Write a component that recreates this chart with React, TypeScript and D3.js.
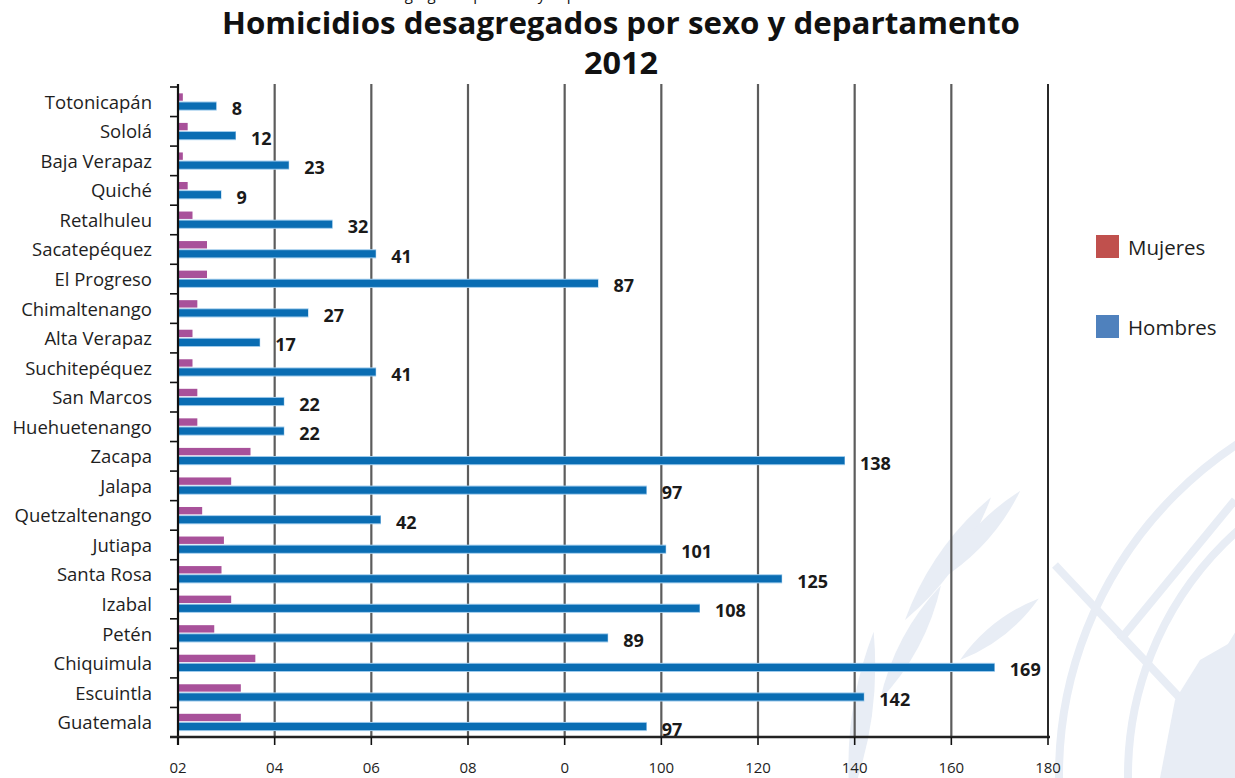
import React from 'react';
import * as d3 from 'd3';

const categories = [
  'Totonicapán', 'Sololá', 'Baja Verapaz', 'Quiché', 'Retalhuleu', 'Sacatepéquez',
  'El Progreso', 'Chimaltenango', 'Alta Verapaz', 'Suchitepéquez', 'San Marcos',
  'Huehuetenango', 'Zacapa', 'Jalapa', 'Quetzaltenango', 'Jutiapa', 'Santa Rosa',
  'Izabal', 'Petén', 'Chiquimula', 'Escuintla', 'Guatemala',
];
const hombres = [8, 12, 23, 9, 32, 41, 87, 27, 17, 41, 22, 22, 138, 97, 42, 101, 125, 108, 89, 169, 142, 97];
const mujeres = [1, 2, 1, 2, 3, 6, 6, 4, 3, 3, 4, 4, 15, 11, 5, 9.5, 9, 11, 7.5, 16, 13, 13];
const tickValues = [0, 20, 40, 60, 80, 100, 120, 140, 160, 180];
const tickLabels = ['02', '04', '06', '08', '0', '100', '120', '140', '160', '180'];
const legendLabels = ['Mujeres', 'Hombres'];
const legendColors = ['#c0504d', '#4f81bd'];
const titleLines = ['Homicidios desagregados por sexo y departamento', '2012'];

const FONT = "'Open Sans', 'DejaVu Sans', sans-serif";
const WM = '#e8edf5';

function leafPath(len: number, w: number) {
  return `M0,0 Q${len * 0.5},${-w} ${len},0 Q${len * 0.5},${w} 0,0 Z`;
}

export default function App() {
  const W = 1235;
  const H = 778;
  const x = d3.scaleLinear().domain([0, 180]).range([178, 1048]);
  const y = d3.scaleBand<string>().domain(categories).range([87, 737]);
  const bw = y.bandwidth();
  const top = 84;
  const bottom = 737;

  const leaves = [
    { x: 850, y: 800, a: -82, l: 170, w: 20 },
    { x: 880, y: 700, a: -62, l: 130, w: 18 },
    { x: 905, y: 620, a: -55, l: 150, w: 20 },
    { x: 940, y: 580, a: -48, l: 120, w: 17 },
    { x: 960, y: 660, a: -38, l: 100, w: 15 },
  ];

  return (
    <svg
      width={W}
      height={H}
      style={{ position: 'absolute', left: 0, top: 0, background: '#fff' }}
      fontFamily={FONT}
    >
      <rect x={0} y={0} width={W} height={H} fill="#fff" />
      {/* watermark */}
      <g fill="none" stroke={WM}>
        <circle cx={1455} cy={775} r={396} strokeWidth={8} />
        <circle cx={1455} cy={775} r={327} strokeWidth={8} />
        <circle cx={1455} cy={775} r={258} strokeWidth={8} />
        <line x1={1055} y1={565} x2={1240} y2={762} strokeWidth={8} />
        <line x1={1235} y1={500} x2={1120} y2={640} strokeWidth={8} />
      </g>
      <g fill={WM}>
        {leaves.map((lf, i) => (
          <path key={i} d={leafPath(lf.l, lf.w)} transform={`translate(${lf.x},${lf.y}) rotate(${lf.a})`} />
        ))}
        <path d="M1160,778 L1175,700 L1200,660 L1235,640 L1235,778 Z" />
      </g>

      {/* cut-off line at top */}
      <text x={470} y={0} textAnchor="middle" fontSize={15} fill="#111">
        Homicidios desagregados por sexo y departamento
      </text>

      {/* title */}
      <text x={621} y={34} textAnchor="middle" fontSize={31} fontWeight={700} fill="#111"
        textLength={798} lengthAdjust="spacingAndGlyphs">
        {titleLines[0]}
      </text>
      <text x={621} y={74} textAnchor="middle" fontSize={31} fontWeight={700} fill="#111"
        textLength={74} lengthAdjust="spacingAndGlyphs">
        {titleLines[1]}
      </text>

      {/* gridlines */}
      {tickValues.slice(1).map((t) => (
        <line key={'g' + t} x1={x(t)} x2={x(t)} y1={top} y2={bottom}
          stroke={t === 180 ? '#111' : '#5c5c5c'} strokeWidth={t === 180 ? 1.8 : 2.2} />
      ))}

      {/* bars */}
      {categories.map((c, i) => {
        const b = y(c)!;
        return (
          <g key={c}>
            <rect x={x(0)} y={b + bw * 0.215} width={x(mujeres[i]) - x(0)} height={bw * 0.25} fill="#a8519a" />
            <rect x={x(0)} y={b + bw * 0.49} width={x(hombres[i]) - x(0)} height={bw * 0.31} fill="#9fcbec" />
            <rect x={x(0)} y={b + bw * 0.49 + 1} width={x(hombres[i]) - x(0) - 0.5} height={bw * 0.31 - 2} fill="#0a6db3" />
            <text x={x(hombres[i]) + 15} y={b + bw * 0.645 + 2} dominantBaseline="central"
              fontSize={18} fontWeight={700} fill="#1a1a1a">
              {hombres[i]}
            </text>
            <text x={152} y={b + bw * 0.48} dominantBaseline="central" textAnchor="end"
              fontSize={18.5} fill="#1e1e1e">
              {c}
            </text>
          </g>
        );
      })}

      {/* left axis */}
      <line x1={x(0)} x2={x(0)} y1={top} y2={bottom + 8} stroke="#111" strokeWidth={2.2} />
      {d3.range(categories.length + 1).map((k) => {
        const yy = 87 + k * bw;
        return <line key={'lt' + k} x1={170} x2={x(0)} y1={yy} y2={yy} stroke="#111" strokeWidth={1.6} />;
      })}

      {/* bottom axis */}
      <line x1={170} x2={x(180) + 2} y1={bottom} y2={bottom} stroke="#222" strokeWidth={2.4} />
      {tickValues.map((t, i) => (
        <g key={'t' + t}>
          <line x1={x(t)} x2={x(t)} y1={bottom} y2={bottom + 8} stroke="#111" strokeWidth={1.6} />
          <text x={x(t)} y={767} textAnchor="middle" dominantBaseline="central" fontSize={15} fill="#1e1e1e">
            {tickLabels[i]}
          </text>
        </g>
      ))}

      {/* legend */}
      {legendLabels.map((lab, i) => (
        <g key={lab} transform={`translate(1096,${235 + i * 80})`}>
          <rect x={0} y={0} width={23} height={23} fill={legendColors[i]} />
          <text x={32} y={12} dominantBaseline="central" fontSize={20.5} fill="#1e1e1e">{lab}</text>
        </g>
      ))}
    </svg>
  );
}
